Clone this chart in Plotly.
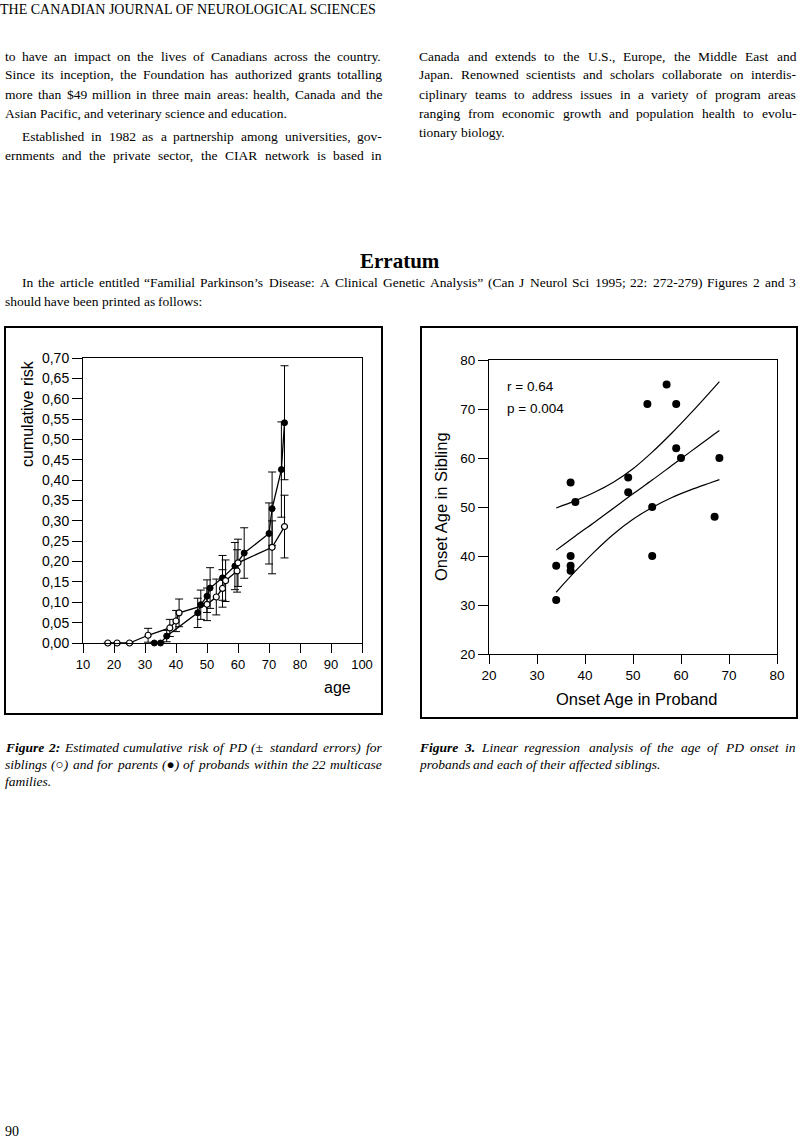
import plotly.graph_objects as go

# ---------------- data: Figure 2 (cumulative risk) ----------------
par_age = [33, 35, 37, 47, 48, 50, 51, 55, 59, 62, 70, 71, 74, 75]
par_risk = [0.0, 0.0, 0.017, 0.074, 0.094, 0.115, 0.135, 0.160, 0.189, 0.221, 0.269, 0.330, 0.426, 0.541]
par_se = [0.0, 0.0, 0.014, 0.036, 0.036, 0.040, 0.050, 0.055, 0.058, 0.062, 0.075, 0.090, 0.117, 0.140]

sib_age = [18, 21, 25, 31, 38, 40, 41, 50, 53, 55, 56, 59.7, 60, 71, 75]
sib_risk = [0.0, 0.0, 0.0, 0.019, 0.037, 0.054, 0.074, 0.095, 0.113, 0.134, 0.153, 0.177, 0.197, 0.235, 0.286]
sib_se = [0.0, 0.0, 0.0, 0.017, 0.021, 0.026, 0.034, 0.040, 0.044, 0.046, 0.051, 0.052, 0.058, 0.065, 0.077]

risk_ticks = [0.0, 0.05, 0.10, 0.15, 0.20, 0.25, 0.30, 0.35, 0.40, 0.45, 0.50, 0.55, 0.60, 0.65, 0.70]
risk_ticktext = ["0,00", "0,05", "0,10", "0,15", "0,20", "0,25", "0,30", "0,35",
                 "0,40", "0,45", "0,50", "0,55", "0,60", "0,65", "0,70"]
age_ticks = [10, 20, 30, 40, 50, 60, 70, 80, 90, 100]

# ---------------- data: Figure 3 (onset ages) ----------------
proband = [34, 34, 37, 37, 37, 37, 38, 49, 49, 53, 54, 54, 57, 59, 59, 60, 67, 68]
sibling = [38, 31, 55, 40, 38, 37, 51, 56, 53, 71, 50, 40, 75, 71, 62, 60, 48, 60]

fit_x = [34, 38, 42, 46, 50, 54, 58, 62, 66, 68]
fit_mid = [41.2, 44.1, 46.9, 49.8, 52.7, 55.5, 58.4, 61.3, 64.2, 65.6]
fit_upper = [49.8, 51.3, 53.0, 55.1, 57.8, 61.2, 65.0, 69.1, 73.4, 75.6]
fit_lower = [32.6, 36.9, 40.9, 44.5, 47.5, 49.9, 51.9, 53.5, 54.9, 55.6]
onset_ticks = [20, 30, 40, 50, 60, 70, 80]

# ---------------- page text ----------------
header = "THE CANADIAN JOURNAL OF NEUROLOGICAL SCIENCES"
left_col = [
    "to have an impact on the lives of Canadians across the country.",
    "Since its inception, the Foundation has authorized grants totalling",
    "more than $49 million in three main areas: health, Canada and the",
    "Asian Pacific, and veterinary science and education.",
    "Established in 1982 as a partnership among universities, gov-",
    "ernments and the private sector, the CIAR network is based in",
]
right_col = [
    "Canada and extends to the U.S., Europe, the Middle East and",
    "Japan. Renowned scientists and scholars collaborate on interdis-",
    "ciplinary teams to address issues in a variety of program areas",
    "ranging from economic growth and population health to evolu-",
    "tionary biology.",
]
erratum_title = "Erratum"
erratum_lines = [
    "In the article entitled \u201cFamilial Parkinson\u2019s Disease: A Clinical Genetic Analysis\u201d (Can J Neurol Sci 1995; 22: 272-279) Figures 2 and 3",
    "should have been printed as follows:",
]
cap2 = [
    "Figure 2: Estimated cumulative risk of PD (\u00b1 standard errors) for",
    "siblings (\u25cb) and for parents (\u25cf) of probands within the 22 multicase",
    "families.",
]
cap3 = [
    "Figure 3. Linear regression analysis of the age of PD onset in",
    "probands and each of their affected siblings.",
]
page_no = "90"

W, H = 800, 1141


def fx(x):
    return x / W


def fy(y):
    return 1 - y / H


SERIF = "Liberation Serif, Times New Roman, serif"
SANS = "Liberation Sans, Arial, sans-serif"

# approximate Times advance widths (1/1000 em) used only to justify text lines
UP = "ABCDEFGHIJKLMNOPQRSTUVWXYZ"
LO = "abcdefghijklmnopqrstuvwxyz"
REG = dict(zip(UP, [722, 667, 667, 722, 611, 556, 722, 722, 333, 389, 722, 611, 889,
                    722, 722, 556, 722, 667, 556, 611, 722, 722, 944, 722, 722, 611]))
REG.update(zip(LO, [444, 500, 444, 500, 444, 333, 500, 500, 278, 278, 500, 278, 778,
                    500, 500, 500, 500, 333, 389, 278, 500, 500, 722, 500, 500, 444]))
REG.update({" ": 250, ",": 250, ".": 250, ":": 278, ";": 278, "-": 333, "(": 333, ")": 333,
            "$": 500, "\u201c": 444, "\u201d": 444, "\u2019": 333, "\u00b1": 564})
ITA = dict(zip(UP, [611, 611, 667, 722, 611, 611, 722, 722, 333, 444, 667, 556, 833,
                    667, 722, 611, 722, 611, 500, 556, 722, 611, 833, 611, 556, 556]))
ITA.update(zip(LO, [500, 500, 444, 500, 444, 278, 500, 500, 278, 278, 444, 278, 722,
                    500, 500, 500, 500, 389, 389, 278, 500, 444, 667, 444, 444, 389]))
ITA.update({" ": 250, ",": 250, ".": 250, ":": 333, "-": 333, "(": 333, ")": 333,
            "\u00b1": 675, "\u25cb": 600, "\u25cf": 600})
BI = dict(ITA)
BI.update({"F": 667, "u": 556, "e": 444, ":": 333})


def wlen(s, table, size):
    return sum(table.get(c, 500) for c in s) / 1000.0 * size


fig = go.Figure()

# Figure 2 traces
fig.add_trace(go.Scatter(
    x=par_age, y=par_risk, mode="lines+markers", xaxis="x", yaxis="y",
    line=dict(color="black", width=1.3),
    marker=dict(symbol="circle", size=6, color="black", line=dict(color="black", width=1)),
    error_y=dict(type="data", array=par_se, visible=True, color="black", thickness=1, width=4),
    cliponaxis=False, hoverinfo="skip"))
fig.add_trace(go.Scatter(
    x=sib_age, y=sib_risk, mode="lines+markers", xaxis="x", yaxis="y",
    line=dict(color="black", width=1.3),
    marker=dict(symbol="circle", size=6, color="white", line=dict(color="black", width=1.2)),
    error_y=dict(type="data", array=sib_se, visible=True, color="black", thickness=1, width=4),
    cliponaxis=False, hoverinfo="skip"))

# Figure 3 traces
for yy in (fit_upper, fit_mid, fit_lower):
    fig.add_trace(go.Scatter(
        x=fit_x, y=yy, mode="lines", xaxis="x2", yaxis="y2",
        line=dict(color="black", width=1.2, shape="spline"), hoverinfo="skip"))
fig.add_trace(go.Scatter(
    x=proband, y=sibling, mode="markers", xaxis="x2", yaxis="y2",
    marker=dict(symbol="circle", size=8, color="black"), cliponaxis=False, hoverinfo="skip"))

axis_common = dict(showline=True, linecolor="black", linewidth=1, mirror=True,
                   ticks="outside", tickcolor="black", tickwidth=1, automargin=False,
                   showgrid=False, zeroline=False, fixedrange=True)

fig.update_layout(
    template="none",
    width=W, height=H, margin=dict(l=0, r=0, t=0, b=0, pad=0), autosize=False,
    paper_bgcolor="white", plot_bgcolor="white", showlegend=False,
    xaxis=dict(domain=[fx(83), fx(362)], range=[10, 100], tickvals=age_ticks,
               ticklen=9, tickfont=dict(family=SANS, size=13, color="black"),
               anchor="y", **axis_common),
    yaxis=dict(domain=[fy(643), fy(358)], range=[0, 0.70], tickvals=risk_ticks,
               ticktext=risk_ticktext, ticklen=10,
               tickfont=dict(family=SANS, size=14, color="black"),
               anchor="x", **axis_common),
    xaxis2=dict(domain=[fx(489), fx(777)], range=[20, 80], tickvals=onset_ticks,
                ticklen=9, tickfont=dict(family=SANS, size=13.5, color="black"),
                anchor="y2", **axis_common),
    yaxis2=dict(domain=[fy(654), fy(360)], range=[20, 80], tickvals=onset_ticks,
                ticklen=10, tickfont=dict(family=SANS, size=13.5, color="black"),
                anchor="x2", **axis_common),
)

# figure frames
fig.add_shape(type="rect", xref="paper", yref="paper",
              x0=fx(5), x1=fx(382), y0=fy(714), y1=fy(327),
              line=dict(color="black", width=2))
fig.add_shape(type="rect", xref="paper", yref="paper",
              x0=fx(421), x1=fx(797), y0=fy(718), y1=fy(327),
              line=dict(color="black", width=2))

ann = []


def txt(text, x, y, size, family=SERIF, xanchor="left", angle=0, italic=False):
    ann.append(dict(text=text, x=fx(x), y=fy(y), xref="paper", yref="paper",
                    xanchor=xanchor, yanchor="middle", showarrow=False,
                    textangle=angle, borderpad=0, borderwidth=0,
                    font=dict(family=family, size=size, color="black",
                              style="italic" if italic else "normal")))


def line_text(line, x0, x1, y, size, justify=True, italic=False, nbold=0):
    words = line.split(" ")
    tables = [(BI if i < nbold else (ITA if italic else REG)) for i in range(len(words))]
    widths = [wlen(w, t, size) for w, t in zip(words, tables)]
    if justify and len(words) > 1:
        gap = (x1 - x0 - sum(widths)) / (len(words) - 1)
    else:
        gap = wlen(" ", ITA if italic else REG, size)
    x = x0
    for i, (w, wd) in enumerate(zip(words, widths)):
        t = "<b>" + w + "</b>" if i < nbold else w
        txt(t, x, y, size, italic=italic)
        x += wd + gap


BODY = 13.5
# header & body
txt(header, 0, 9, 14)
left_y = [56, 75, 94, 113, 137, 156]
left_just = [True, True, True, False, True, True]
for i, (line, yy, j) in enumerate(zip(left_col, left_y, left_just)):
    line_text(line, 22 if i == 4 else 5, 382, yy, BODY, justify=j)
right_y = [56, 75, 94, 113, 132]
right_just = [True, True, True, True, False]
for line, yy, j in zip(right_col, right_y, right_just):
    line_text(line, 419, 796, yy, BODY, justify=j)

txt("<b>" + erratum_title + "</b>", 400, 261, 21, xanchor="center")
line_text(erratum_lines[0], 22, 796, 283, BODY, justify=True)
line_text(erratum_lines[1], 5, 796, 302, BODY, justify=False)

# Figure 2 labels
txt("cumulative risk", 27, 414, 16, family=SANS, xanchor="center", angle=-90)
txt("age", 337, 688, 16, family=SANS, xanchor="center")

# Figure 3 labels
txt("Onset Age in Sibling", 441, 507, 16.5, family=SANS, xanchor="center", angle=-90)
txt("Onset Age in Proband", 636, 699, 16.5, family=SANS, xanchor="center")
txt("r = 0.64", 507, 386, 13.5, family=SANS)
txt("p = 0.004", 507, 409, 13.5, family=SANS)

# captions
CAP = 13.5
for k, (line, yy) in enumerate(zip(cap2, [747, 764, 781])):
    line_text(line, 5, 382, yy, CAP, justify=(k < 2), italic=True, nbold=2 if k == 0 else 0)
for k, (line, yy) in enumerate(zip(cap3, [747, 764])):
    line_text(line, 419, 796, yy, CAP, justify=(k < 1), italic=True, nbold=2 if k == 0 else 0)

txt(page_no, 5, 1131, 14)

fig.update_layout(annotations=ann)

fig.write_html("out.html",
               config={"displayModeBar": False, "staticPlot": True},
               post_script="document.body.style.margin='0px';"
                           "document.body.style.overflow='hidden';")
